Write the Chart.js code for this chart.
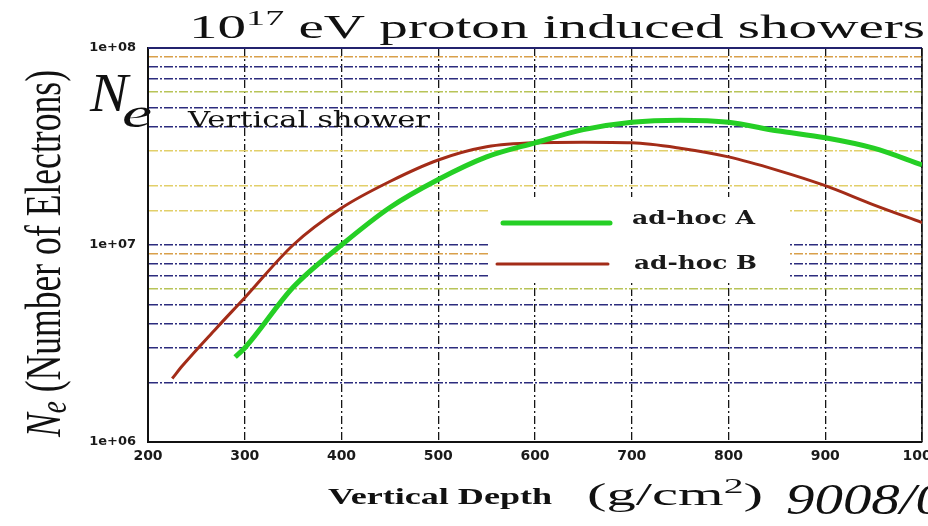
<!DOCTYPE html>
<html>
<head>
<meta charset="utf-8">
<script src="https://cdn.jsdelivr.net/npm/chart.js@4"></script>
<style>
html, body { margin: 0; padding: 0; background: #fff; }
</style>
</head>
<body>
<canvas id="shower-chart" width="928" height="526"></canvas>
<script>
// depth in g/cm2, Ne
const depthA = [290, 300, 350, 400, 450, 500, 550, 600, 650, 700, 750, 800, 850, 900, 950, 1000];
const electronsA = [2.7e6, 3.0e6, 6.1e6, 1.0e7, 1.55e7, 2.15e7, 2.8e7, 3.3e7, 3.85e7, 4.2e7, 4.3e7, 4.2e7, 3.8e7, 3.5e7, 3.1e7, 2.55e7];
const depthB = [225, 236, 270, 300, 350, 400, 450, 500, 550, 600, 650, 700, 750, 800, 850, 900, 950, 1000];
const electronsB = [2.1e6, 2.45e6, 3.75e6, 5.4e6, 1.0e7, 1.54e7, 2.1e7, 2.7e7, 3.15e7, 3.3e7, 3.32e7, 3.3e7, 3.1e7, 2.8e7, 2.4e7, 2.0e7, 1.6e7, 1.3e7];
const seriesNames = ['ad-hoc A', 'ad-hoc B'];
const depthTicks = [200, 300, 400, 500, 600, 700, 800, 900, 1000];
const decadeTicks = [1e6, 1e7, 1e8];

const toPoints = (xs, ys) => xs.map((x, i) => ({ x: x, y: ys[i] }));

function mantissa(v) {
    const e = Math.floor(Math.log10(v) + 1e-9);
    return Math.round(v / Math.pow(10, e));
}

function gridColour(v) {
    const m = mantissa(v);
    if (m === 9) return '#d9a04a';
    if (m === 6) return '#b8c458';
    if (v > 1e7 && (m === 2 || m === 3)) return '#e2cf6a';
    return '#2c2c7e';
}

// draw a run of text pieces squeezed/stretched to a given width
function drawPieces(ctx, pieces, x, y, width) {
    let total = 0;
    pieces.forEach(p => { ctx.font = p.font; p.w = ctx.measureText(p.t).width; total += p.w; });
    ctx.save();
    ctx.translate(x, y);
    ctx.scale(width / total, 1);
    let cx = 0;
    pieces.forEach(p => {
        ctx.font = p.font;
        ctx.fillText(p.t, cx, p.dy || 0);
        cx += p.w;
    });
    ctx.restore();
}

const decorations = {
    id: 'decorations',
    beforeDatasetsDraw(chart) {
        const { ctx, chartArea: a } = chart;
        ctx.save();
        // legend sits on a blank patch of the grid
        ctx.fillStyle = '#fff';
        ctx.fillRect(490, 197, 298, 85);
        ctx.lineWidth = 2;
        ctx.strokeStyle = '#23236e';
        ctx.beginPath(); ctx.moveTo(a.left, a.top); ctx.lineTo(a.right, a.top); ctx.stroke();
        ctx.strokeStyle = '#111';
        ctx.lineWidth = 1.5;
        ctx.beginPath(); ctx.moveTo(a.right, a.top); ctx.lineTo(a.right, a.bottom); ctx.stroke();
        ctx.restore();
    },
    afterDatasetsDraw(chart) {
        const ctx = chart.ctx;
        const rows = [
            { x1: 503, x2: 610, y: 223, tx: 632, ty: 224, tw: 123 },
            { x1: 497, x2: 608, y: 264, tx: 634, ty: 269, tw: 123 }
        ];
        ctx.save();
        rows.forEach((r, i) => {
            const ds = chart.data.datasets[i];
            ctx.strokeStyle = ds.borderColor;
            ctx.lineWidth = ds.borderWidth;
            ctx.lineCap = 'round';
            ctx.beginPath(); ctx.moveTo(r.x1, r.y); ctx.lineTo(r.x2, r.y); ctx.stroke();
            ctx.fillStyle = '#1a1a1a';
            drawPieces(ctx, [{ t: ds.label, font: 'bold 18px "DejaVu Serif"' }], r.tx, r.ty, r.tw);
        });
        ctx.restore();
    },
    afterDraw(chart) {
        const ctx = chart.ctx;
        ctx.save();
        ctx.fillStyle = '#111';
        ctx.textBaseline = 'alphabetic';
        ctx.textAlign = 'left';

        // title
        drawPieces(ctx, [
            { t: '10', font: '33px "Liberation Serif"' },
            { t: '17', font: '22px "Liberation Serif"', dy: -13 },
            { t: ' eV proton induced showers', font: '33px "Liberation Serif"' }
        ], 189, 38, 736);

        // y axis title
        ctx.save();
        ctx.translate(60, 437);
        ctx.rotate(-Math.PI / 2);
        drawPieces(ctx, [
            { t: 'N', font: 'italic 50px "Liberation Serif"' },
            { t: 'e', font: 'italic 38px "Liberation Serif"', dy: 6 },
            { t: ' (Number of Electrons)', font: '50px "Liberation Serif"' }
        ], 0, 0, 367);
        ctx.restore();

        // pencil notes
        drawPieces(ctx, [{ t: 'N', font: 'italic 54px "Liberation Serif"' }], 90, 111, 38);
        drawPieces(ctx, [{ t: 'e', font: 'italic 42px "Liberation Serif"' }], 122, 127, 30);

        drawPieces(ctx, [{ t: 'Vertical shower', font: '22px "DejaVu Serif"' }], 188, 127, 242);

        // x axis title
        drawPieces(ctx, [{ t: 'Vertical Depth', font: 'bold 24px "Liberation Serif"' }], 328, 504, 224);
        drawPieces(ctx, [
            { t: '(g/cm', font: '31px "Liberation Serif"' },
            { t: '2', font: '21px "Liberation Serif"', dy: -12 },
            { t: ')', font: '31px "Liberation Serif"' }
        ], 587, 505, 176);
        drawPieces(ctx, [{ t: '9008/0', font: 'italic 44px "Liberation Serif"' }], 786, 514, 158);
        ctx.restore();
    }
};

new Chart('shower-chart', {
    type: 'line',
    data: {
        datasets: [{
            label: seriesNames[0],
            data: toPoints(depthA, electronsA),
            borderColor: '#25cf25',
            borderWidth: 5,
        }, {
            label: seriesNames[1],
            data: toPoints(depthB, electronsB),
            borderColor: '#a32c18',
            borderWidth: 3,
        }],
    },
    options: {
        responsive: false,
        animation: false,
        layout: { padding: { top: 48, right: 6, left: 0, bottom: 0 } },
        elements: {
            point: { radius: 0 },
            line: { cubicInterpolationMode: 'monotone' }
        },
        plugins: {
            legend: { display: false },
            tooltip: { enabled: false }
        },
        scales: {
            x: {
                type: 'linear',
                min: 200,
                max: 1000,
                afterBuildTicks: s => { s.ticks = depthTicks.map(v => ({ value: v })); },
                afterFit: s => { s.height = 84; s.paddingLeft = 0; s.paddingRight = 0; },
                ticks: {
                    padding: 6,
                    color: '#1a1a1a',
                    font: { family: 'DejaVu Sans', weight: 'bold', size: 14 },
                    maxRotation: 0,
                    autoSkip: false,
                    callback: v => String(v)
                },
                grid: { color: '#151515', lineWidth: 1.3, drawTicks: false },
                border: { color: '#111', width: 2, dash: [8, 3, 2, 3] }
            },
            y: {
                type: 'logarithmic',
                min: 1e6,
                max: 1e8,
                afterFit: s => { s.width = 148; s.paddingTop = 0; s.paddingBottom = 0; },
                ticks: {
                    autoSkip: false,
                    padding: 12,
                    color: '#1a1a1a',
                    font: { family: 'DejaVu Sans', weight: 'bold', size: 13 },
                    callback: v => decadeTicks.includes(v) ? '1e+' + String(Math.round(Math.log10(v))).padStart(2, '0') : ''
                },
                grid: {
                    color: c => c.tick ? gridColour(c.tick.value) : '#2c2c7e',
                    lineWidth: 1.5,
                    drawTicks: false
                },
                border: { color: '#111', width: 2, dash: [9, 2, 2, 2] }
            }
        }
    },
    plugins: [decorations]
});
</script>
</body>
</html>
